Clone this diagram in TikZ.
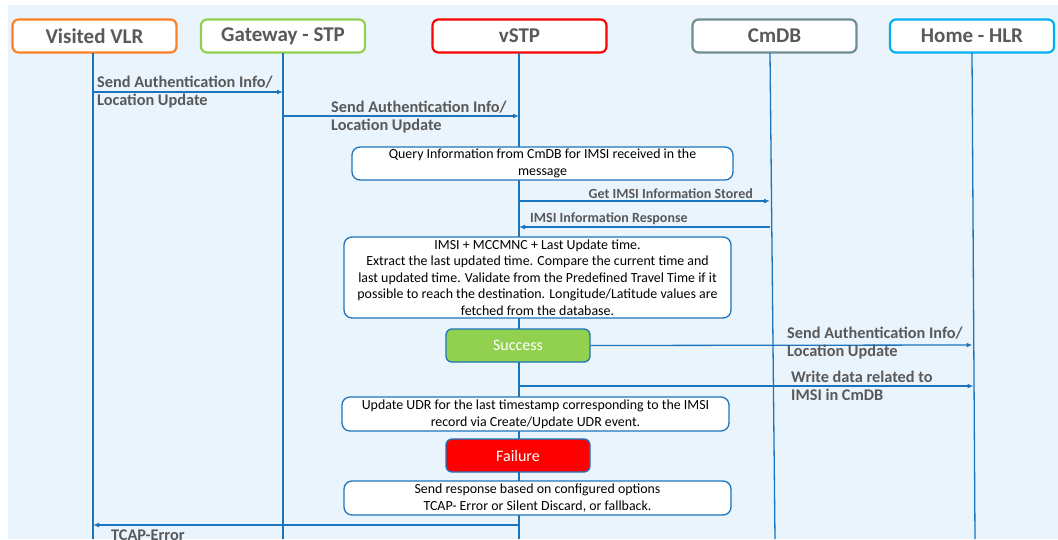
\documentclass[tikz,border=0pt]{standalone}
\usepackage{fontspec}
\setmainfont{Carlito}
\usetikzlibrary{arrows.meta}
\definecolor{bgblue}{HTML}{EAF4FC}
\definecolor{lineblue}{HTML}{1C75BC}
\definecolor{txtgrey}{HTML}{595959}
\definecolor{cvlr}{HTML}{FF7F27}
\definecolor{cgw}{HTML}{92D050}
\definecolor{cvstp}{HTML}{FF0000}
\definecolor{ccmdb}{HTML}{6F8C91}
\definecolor{chlr}{HTML}{00B0F0}
\definecolor{cgreen}{HTML}{92D050}
\tikzset{
  hdr/.style={draw, line width=2.2pt, rounded corners=6pt, fill=white, minimum width=164pt, minimum height=33pt, inner sep=0pt, text=txtgrey, font=\fontsize{21}{23}\selectfont\bfseries},
  life/.style={draw=lineblue, line width=1.3pt},
  msg/.style={draw=lineblue, line width=1.3pt, -{Latex[length=6pt,width=5pt]}},
  mlabel/.style={text=txtgrey, font=\fontsize{16.3}{18}\selectfont\bfseries, align=left, inner sep=1pt},
  slabel/.style={text=txtgrey, font=\fontsize{14}{16}\selectfont\bfseries, inner sep=1pt},
  notebox/.style={draw=lineblue, line width=1.3pt, rounded corners=8pt, fill=white, align=center, inner sep=0pt, font=\fontsize{13.9}{16.6}\selectfont},
  statebox/.style={draw=lineblue, line width=1.3pt, rounded corners=6pt, minimum width=144pt, minimum height=33pt, inner sep=0pt, text=white, font=\fontsize{16}{18}\selectfont}
}
\begin{document}
\begin{tikzpicture}[x=1pt,y=-1pt]
\useasboundingbox (0,0) rectangle (1058,539);
\fill[bgblue] (8,5) rectangle (1058,539);

% lifelines end points
\coordinate (vlrE) at (93,539);
\coordinate (gwE) at (283,539);
\coordinate (vstpE) at (519,539);
\coordinate (cmdbE) at (775,539);
\coordinate (hlrE) at (975,539);

% headers
\node[hdr, draw=cvlr] (vlr) at (94.5,36) {Visited VLR};
\node[hdr, draw=cgw] (gw) at (283,36) {Gateway - STP};
\node[hdr, draw=cvstp, minimum width=174pt] (vstp) at (519.5,36) {vSTP};
\node[hdr, draw=ccmdb] (cmdb) at (774.5,36) {CmDB};
\node[hdr, draw=chlr] (hlr) at (972,36) {Home - HLR};

\draw[life] (93,53) -- (vlrE);
\draw[life] (283,53) -- (gwE);
\draw[life] (519,53) -- (vstpE);
\draw[life] (770,53) -- (cmdbE);
\draw[life] (972,53) -- (hlrE);

% message points
\coordinate (m1a) at (93,92);   \coordinate (m1b) at (283,92);
\coordinate (m2a) at (283,116); \coordinate (m2b) at (519,116);
\coordinate (m3a) at (519,201); \coordinate (m3b) at (770,201);
\coordinate (m4a) at (770,227); \coordinate (m4b) at (519,227);
\coordinate (m5b) at (972.5,345);
\coordinate (m6a) at (519,386); \coordinate (m6b) at (973.5,386);
\coordinate (m7a) at (519,525); \coordinate (m7b) at (93,525);

\draw[msg] (m1a) -- (m1b);
\node[mlabel, anchor=west] (l1) at (96,92) {Send Authentication Info/\\Location Update};
\draw[msg] (m2a) -- (m2b);
\node[mlabel, anchor=west] (l2) at (330,117) {Send Authentication Info/\\Location Update};

\node[notebox, minimum width=381pt, minimum height=33pt] (q) at (542.5,163.5) {Query Information from CmDB for IMSI received in the\\message};

\draw[msg] (m3a) -- (m3b);
\node[slabel, anchor=south east] (l3) at (754,200) {Get IMSI Information Stored};
\draw[msg] (m4a) -- (m4b);
\node[slabel, anchor=south west] (l4) at (529,226) {IMSI Information Response};

\node[notebox, minimum width=387pt, minimum height=81pt] (big) at (537.5,277.5) {IMSI + MCCMNC + Last Update time.\\Extract the last updated time. Compare the current time and\\last updated time. Validate from the Predefined Travel Time if it\\possible to reach the destination. Longitude/Latitude values are\\fetched from the database.};

\node[statebox, fill=cgreen] (succ) at (518,345.5) {Success};
\draw[msg] (succ.east) -- (m5b);
\node[mlabel, anchor=west] (l5) at (786,343) {Send Authentication Info/\\Location Update};

\draw[msg] (m6a) -- (m6b);
\node[mlabel, anchor=west] (l6) at (790,386) {Write data related to\\IMSI in CmDB};

\node[notebox, minimum width=387pt, minimum height=34pt] (udr) at (535.5,414) {Update UDR for the last timestamp corresponding to the IMSI\\record via Create/Update UDR event.};

\node[statebox, fill=cvstp] (fail) at (518,455.5) {Failure};

\node[notebox, minimum width=387pt, minimum height=34pt] (resp) at (537.5,498) {Send response based on configured options\\TCAP- Error or Silent Discard, or fallback.};

\draw[msg] (m7a) -- (m7b);
\node[mlabel, anchor=north west] (l7) at (110,529) {TCAP-Error};
\end{tikzpicture}
\end{document}
